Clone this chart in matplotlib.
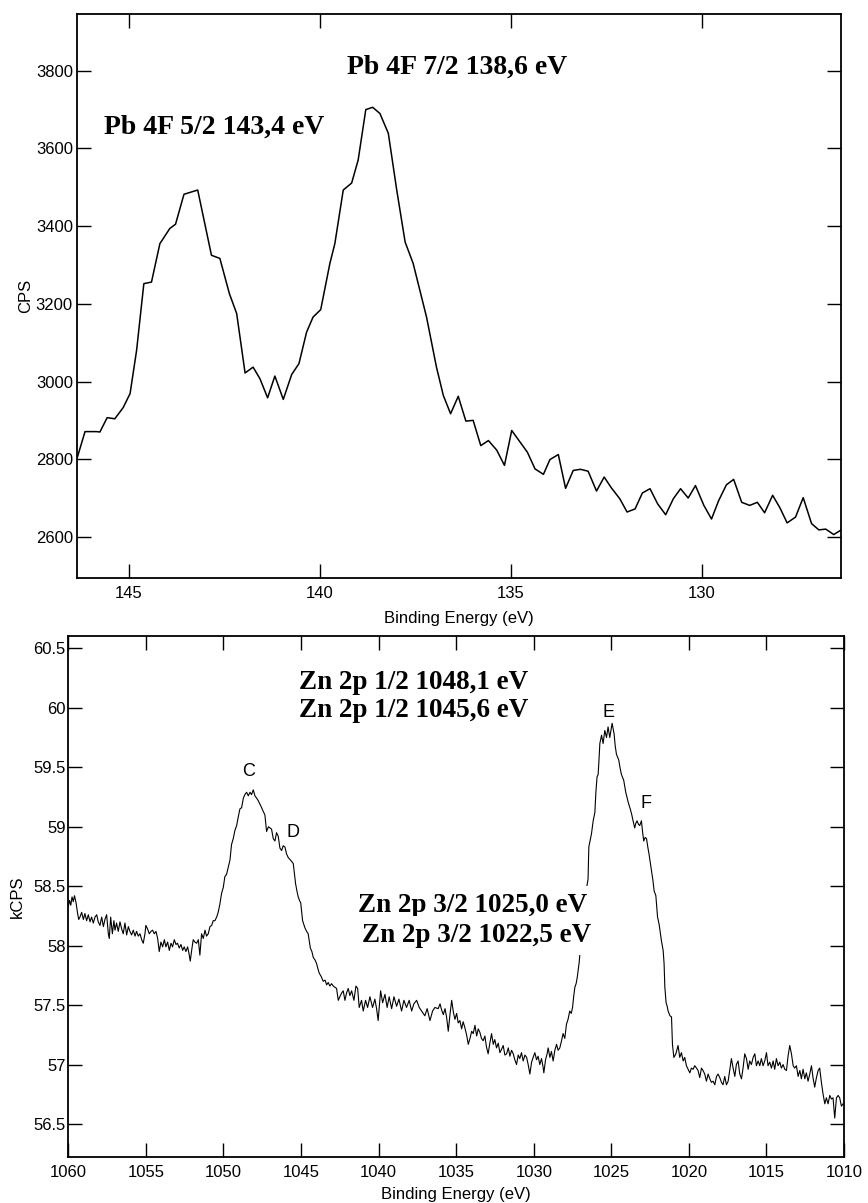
import numpy as np
import matplotlib.pyplot as plt

# XPS spectra: Pb 4f (top) and Zn 2p (bottom)

# Pb 4f region
pb_be = [146.35, 146.15, 145.85, 145.76, 145.57, 145.37, 145.15, 144.97, 144.80, 144.61,
         144.41, 144.19, 143.93, 143.78, 143.56, 143.20, 142.84, 142.62, 142.37, 142.18,
         141.96, 141.75, 141.57, 141.37, 141.18, 140.96, 140.74, 140.55, 140.35, 140.18,
         139.98, 139.74, 139.61, 139.39, 139.17, 139.00, 138.80, 138.62, 138.43, 138.21,
         137.99, 137.77, 137.56, 137.21, 136.95, 136.77, 136.58, 136.38, 136.18, 135.99,
         135.79, 135.59, 135.37, 135.17, 134.98, 134.79, 134.57, 134.37, 134.15, 133.98,
         133.76, 133.57, 133.37, 133.18, 132.98, 132.76, 132.56, 132.37, 132.15, 131.96,
         131.75, 131.56, 131.36, 131.16, 130.95, 130.75, 130.56, 130.36, 130.17, 129.95,
         129.75, 129.56, 129.36, 129.17, 128.96, 128.75, 128.55, 128.36, 128.15, 127.96,
         127.77, 127.55, 127.35, 127.13, 126.94, 126.76, 126.55, 126.35]
pb_cps = [2805, 2871, 2871, 2870, 2907, 2904, 2933, 2969, 3080, 3252,
          3256, 3355, 3394, 3405, 3482, 3493, 3325, 3317, 3226, 3175,
          3022, 3037, 3007, 2958, 3014, 2954, 3018, 3046, 3127, 3166,
          3185, 3304, 3355, 3493, 3511, 3570, 3700, 3706, 3690, 3639,
          3493, 3359, 3304, 3166, 3037, 2964, 2917, 2962, 2898, 2900,
          2835, 2848, 2823, 2784, 2874, 2848, 2818, 2775, 2761, 2799,
          2812, 2725, 2771, 2774, 2769, 2718, 2754, 2726, 2698, 2664,
          2672, 2713, 2724, 2685, 2657, 2698, 2724, 2700, 2732, 2681,
          2646, 2694, 2734, 2748, 2689, 2681, 2689, 2662, 2707, 2675,
          2636, 2651, 2701, 2634, 2618, 2620, 2606, 2618]

# Zn 2p region (binding energy, kCPS)
zn_scan = [
    (1060.00, 58.33), (1059.92, 58.38), (1059.84, 58.34), (1059.76, 58.41), (1059.68, 58.37),
    (1059.60, 58.42), (1059.50, 58.36), (1059.40, 58.27), (1059.33, 58.22), (1059.25, 58.24),
    (1059.14, 58.28), (1059.03, 58.22), (1058.93, 58.27), (1058.82, 58.21), (1058.71, 58.26),
    (1058.60, 58.20), (1058.50, 58.24), (1058.39, 58.19), (1058.28, 58.24), (1058.17, 58.26),
    (1058.07, 58.20), (1057.96, 58.17), (1057.85, 58.24), (1057.74, 58.16), (1057.64, 58.22),
    (1057.53, 58.26), (1057.42, 58.10), (1057.36, 58.06), (1057.27, 58.24), (1057.16, 58.10),
    (1057.06, 58.21), (1056.99, 58.13), (1056.89, 58.19), (1056.78, 58.12), (1056.67, 58.20),
    (1056.56, 58.14), (1056.46, 58.10), (1056.35, 58.19), (1056.24, 58.09), (1056.13, 58.16),
    (1056.03, 58.12), (1055.92, 58.09), (1055.81, 58.13), (1055.70, 58.08), (1055.60, 58.12),
    (1055.49, 58.08), (1055.38, 58.10), (1055.27, 58.05), (1055.17, 58.02), (1055.06, 58.10),
    (1055.00, 58.17), (1054.89, 58.14), (1054.78, 58.10), (1054.67, 58.12), (1054.57, 58.13),
    (1054.46, 58.10), (1054.35, 58.12), (1054.24, 58.06), (1054.14, 57.95), (1054.03, 58.03),
    (1053.92, 57.99), (1053.81, 58.05), (1053.71, 57.99), (1053.60, 58.03), (1053.49, 57.96),
    (1053.38, 58.02), (1053.28, 57.99), (1053.17, 58.05), (1053.06, 58.01), (1052.96, 58.02),
    (1052.85, 57.98), (1052.74, 58.01), (1052.63, 57.96), (1052.53, 57.99), (1052.42, 57.95),
    (1052.31, 57.99), (1052.23, 57.94), (1052.14, 57.87), (1052.05, 57.96), (1051.95, 58.05),
    (1051.84, 58.03), (1051.73, 58.02), (1051.62, 58.05), (1051.52, 57.92), (1051.41, 58.10),
    (1051.30, 58.06), (1051.19, 58.13), (1051.09, 58.08), (1050.98, 58.10), (1050.87, 58.16),
    (1050.76, 58.17), (1050.66, 58.21), (1050.55, 58.21), (1050.44, 58.24), (1050.34, 58.28),
    (1050.23, 58.35), (1050.12, 58.44), (1050.01, 58.49), (1049.91, 58.58), (1049.80, 58.60),
    (1049.69, 58.66), (1049.58, 58.72), (1049.48, 58.85), (1049.37, 58.90), (1049.26, 58.97),
    (1049.15, 59.01), (1049.05, 59.08), (1048.94, 59.15), (1048.83, 59.16), (1048.72, 59.24),
    (1048.62, 59.27), (1048.51, 59.29), (1048.40, 59.26), (1048.29, 59.29), (1048.19, 59.27),
    (1048.08, 59.31), (1047.97, 59.26), (1047.86, 59.24), (1047.76, 59.22), (1047.65, 59.19),
    (1047.54, 59.16), (1047.44, 59.13), (1047.33, 59.10), (1047.22, 58.96), (1047.10, 59.00),
    (1046.90, 58.98), (1046.79, 58.90), (1046.68, 58.88), (1046.58, 58.95), (1046.47, 58.92),
    (1046.36, 58.82), (1046.25, 58.80), (1046.15, 58.84), (1046.04, 58.83), (1045.93, 58.77),
    (1045.82, 58.74), (1045.68, 58.72), (1045.50, 58.69), (1045.42, 58.60), (1045.35, 58.52),
    (1045.25, 58.45), (1045.18, 58.41), (1045.10, 58.38), (1045.02, 58.36), (1044.90, 58.21),
    (1044.80, 58.17), (1044.75, 58.15), (1044.64, 58.12), (1044.54, 58.10), (1044.40, 57.98),
    (1044.30, 57.95), (1044.21, 57.90), (1044.10, 57.88), (1044.00, 57.85), (1043.90, 57.80),
    (1043.83, 57.77), (1043.70, 57.74), (1043.57, 57.70), (1043.45, 57.71), (1043.35, 57.67),
    (1043.25, 57.69), (1043.14, 57.66), (1043.03, 57.68), (1042.92, 57.66), (1042.81, 57.65),
    (1042.71, 57.64), (1042.60, 57.54), (1042.50, 57.57), (1042.39, 57.60), (1042.28, 57.62),
    (1042.17, 57.54), (1042.07, 57.60), (1041.96, 57.64), (1041.85, 57.58), (1041.74, 57.62),
    (1041.59, 57.54), (1041.46, 57.66), (1041.35, 57.64), (1041.25, 57.48), (1041.10, 57.54),
    (1040.99, 57.45), (1040.84, 57.54), (1040.71, 57.48), (1040.56, 57.57), (1040.39, 57.48),
    (1040.24, 57.55), (1040.13, 57.47), (1040.03, 57.37), (1039.87, 57.62), (1039.74, 57.52),
    (1039.59, 57.59), (1039.45, 57.48), (1039.32, 57.57), (1039.16, 57.47), (1039.01, 57.57),
    (1038.84, 57.49), (1038.69, 57.55), (1038.52, 57.45), (1038.37, 57.54), (1038.20, 57.48),
    (1038.03, 57.54), (1037.87, 57.45), (1037.73, 57.51), (1037.55, 57.54), (1037.38, 57.48),
    (1037.23, 57.45), (1037.02, 57.41), (1036.87, 57.47), (1036.69, 57.37), (1036.52, 57.45),
    (1036.37, 57.48), (1036.16, 57.47), (1036.04, 57.51), (1035.94, 57.46), (1035.83, 57.42),
    (1035.72, 57.47), (1035.62, 57.40), (1035.51, 57.28), (1035.40, 57.42), (1035.29, 57.54),
    (1035.18, 57.44), (1035.08, 57.38), (1034.97, 57.43), (1034.87, 57.35), (1034.76, 57.37),
    (1034.65, 57.30), (1034.55, 57.36), (1034.44, 57.31), (1034.33, 57.25), (1034.22, 57.17),
    (1034.11, 57.22), (1034.00, 57.28), (1033.90, 57.26), (1033.79, 57.33), (1033.68, 57.24),
    (1033.58, 57.30), (1033.47, 57.27), (1033.37, 57.22), (1033.26, 57.20), (1033.15, 57.24),
    (1033.05, 57.15), (1032.94, 57.09), (1032.83, 57.18), (1032.72, 57.26), (1032.61, 57.17),
    (1032.51, 57.21), (1032.40, 57.14), (1032.29, 57.18), (1032.18, 57.10), (1032.07, 57.13),
    (1031.97, 57.16), (1031.86, 57.08), (1031.75, 57.09), (1031.64, 57.14), (1031.54, 57.07),
    (1031.43, 57.12), (1031.32, 57.09), (1031.22, 57.04), (1031.11, 57.00), (1031.00, 57.08),
    (1030.90, 57.05), (1030.79, 57.10), (1030.68, 57.03), (1030.57, 57.08), (1030.46, 57.06),
    (1030.36, 57.00), (1030.25, 56.92), (1030.14, 57.02), (1030.04, 57.06), (1029.93, 57.10),
    (1029.82, 57.04), (1029.72, 57.07), (1029.61, 57.00), (1029.50, 57.05), (1029.40, 56.98),
    (1029.35, 56.93), (1029.24, 57.04), (1029.14, 57.09), (1029.07, 57.14), (1028.96, 57.06),
    (1028.86, 57.11), (1028.75, 57.03), (1028.64, 57.12), (1028.53, 57.17), (1028.43, 57.12),
    (1028.32, 57.14), (1028.21, 57.20), (1028.11, 57.26), (1028.00, 57.22), (1027.89, 57.34),
    (1027.79, 57.38), (1027.68, 57.45), (1027.58, 57.43), (1027.50, 57.48), (1027.42, 57.58),
    (1027.35, 57.65), (1027.27, 57.68), (1027.20, 57.73), (1027.13, 57.80), (1027.07, 57.86),
    (1026.90, 58.15), (1026.70, 58.40), (1026.50, 58.56), (1026.45, 58.83), (1026.37, 58.88),
    (1026.28, 58.94), (1026.17, 59.05), (1026.06, 59.12), (1026.00, 59.28), (1025.92, 59.42),
    (1025.85, 59.44), (1025.80, 59.55), (1025.74, 59.70), (1025.63, 59.77), (1025.53, 59.70),
    (1025.42, 59.81), (1025.31, 59.75), (1025.21, 59.84), (1025.10, 59.75), (1024.95, 59.87),
    (1024.82, 59.78), (1024.75, 59.68), (1024.67, 59.61), (1024.52, 59.56), (1024.43, 59.49),
    (1024.35, 59.44), (1024.20, 59.39), (1024.07, 59.29), (1023.92, 59.21), (1023.76, 59.14),
    (1023.68, 59.10), (1023.60, 59.05), (1023.49, 58.99), (1023.42, 59.03), (1023.34, 59.05),
    (1023.25, 59.02), (1023.17, 59.01), (1023.06, 59.05), (1022.98, 58.95), (1022.91, 58.88),
    (1022.82, 58.91), (1022.73, 58.90), (1022.65, 58.83), (1022.57, 58.77), (1022.49, 58.70),
    (1022.41, 58.63), (1022.32, 58.55), (1022.24, 58.46), (1022.13, 58.42), (1022.02, 58.24),
    (1021.92, 58.18), (1021.77, 58.04), (1021.66, 57.96), (1021.60, 57.85), (1021.55, 57.65),
    (1021.47, 57.52), (1021.40, 57.49), (1021.34, 57.45), (1021.22, 57.41), (1021.12, 57.40),
    (1021.06, 57.17), (1020.97, 57.06), (1020.84, 57.09), (1020.70, 57.16), (1020.59, 57.06),
    (1020.48, 57.10), (1020.37, 57.03), (1020.27, 57.06), (1020.16, 56.99), (1020.05, 56.96),
    (1019.94, 56.93), (1019.84, 56.97), (1019.73, 56.96), (1019.62, 56.99), (1019.51, 56.97),
    (1019.41, 56.95), (1019.30, 56.89), (1019.19, 56.97), (1019.09, 56.95), (1018.98, 56.92),
    (1018.87, 56.86), (1018.76, 56.92), (1018.65, 56.88), (1018.55, 56.85), (1018.44, 56.86),
    (1018.33, 56.83), (1018.22, 56.90), (1018.12, 56.92), (1018.01, 56.89), (1017.90, 56.85),
    (1017.80, 56.83), (1017.69, 56.90), (1017.58, 56.83), (1017.47, 56.86), (1017.37, 56.95),
    (1017.26, 57.05), (1017.15, 56.97), (1017.04, 56.90), (1016.94, 57.00), (1016.83, 57.03),
    (1016.72, 56.92), (1016.61, 56.88), (1016.51, 56.97), (1016.40, 57.09), (1016.29, 57.05),
    (1016.18, 56.96), (1016.08, 57.03), (1015.97, 57.00), (1015.86, 57.06), (1015.75, 57.09),
    (1015.65, 56.99), (1015.54, 57.03), (1015.43, 56.99), (1015.33, 57.05), (1015.22, 56.99),
    (1015.11, 57.03), (1015.00, 57.10), (1014.90, 56.99), (1014.79, 57.02), (1014.68, 56.97),
    (1014.57, 57.03), (1014.47, 56.96), (1014.36, 57.05), (1014.25, 56.99), (1014.14, 57.02),
    (1014.04, 56.97), (1013.93, 57.00), (1013.82, 56.96), (1013.71, 56.95), (1013.61, 57.07),
    (1013.50, 57.16), (1013.39, 57.09), (1013.28, 56.99), (1013.18, 56.97), (1013.07, 56.99),
    (1012.96, 56.90), (1012.85, 56.95), (1012.75, 56.88), (1012.64, 56.96), (1012.53, 56.88),
    (1012.43, 56.93), (1012.32, 56.86), (1012.21, 56.92), (1012.10, 56.99), (1012.00, 56.89),
    (1011.89, 56.81), (1011.78, 56.89), (1011.67, 56.95), (1011.57, 56.97), (1011.46, 56.85),
    (1011.35, 56.75), (1011.24, 56.67), (1011.14, 56.72), (1011.03, 56.67), (1010.92, 56.74),
    (1010.81, 56.71), (1010.71, 56.72), (1010.60, 56.55), (1010.49, 56.72), (1010.38, 56.74),
    (1010.28, 56.72), (1010.17, 56.65), (1010.06, 56.67),
]
zn_be = [p[0] for p in zn_scan]
zn_kcps = [p[1] for p in zn_scan]

pb_labels = ['Pb 4F 7/2 138,6 eV', 'Pb 4F 5/2 143,4 eV']
zn_labels_12 = ['Zn 2p 1/2 1048,1 eV', 'Zn 2p 1/2 1045,6 eV']
zn_labels_32 = ['Zn 2p 3/2 1025,0 eV', 'Zn 2p 3/2 1022,5 eV']
peak_letters = ['C', 'D', 'E', 'F']

sans = 'Liberation Sans'
serif = 'Liberation Serif'
plt.rcParams['font.family'] = sans

fig = plt.figure(figsize=(8.68, 12.03), dpi=100)

def style_axes(ax, ypad):
    ax.tick_params(direction='in', length=10, width=1.0, top=True, right=True,
                   labelsize=12)
    ax.tick_params(axis='x', pad=6)
    ax.tick_params(axis='y', pad=ypad)
    for s in ax.spines.values():
        s.set_linewidth(1.3)

# ---- top: Pb 4f ----
ax1 = fig.add_axes([0.0887, 0.5195, 0.8802, 0.4688])
ax1.plot(pb_be, pb_cps, color='black', lw=1.1)
ax1.set_xlim(146.36, 126.36)
ax1.set_ylim(2494, 3946)
ax1.set_xticks([145, 140, 135, 130])
ax1.set_yticks([2600, 2800, 3000, 3200, 3400, 3600, 3800])
style_axes(ax1, 3)
ax1.set_xlabel('Binding Energy (eV)', fontsize=12, labelpad=7)
ax1.set_ylabel('CPS', fontsize=12)
ax1.yaxis.set_label_coords(-0.0576, 0.5)
ax1.text(136.4, 3810, pb_labels[0], family=serif, weight='bold', fontsize=20,
         ha='center', va='center')
ax1.text(142.77, 3655, pb_labels[1], family=serif, weight='bold', fontsize=20,
         ha='center', va='center')

# ---- bottom: Zn 2p ----
ax2 = fig.add_axes([0.0787, 0.0385, 0.8937, 0.4328])
ax2.plot(zn_be, zn_kcps, color='black', lw=0.8, zorder=2)
ax2.set_xlim(1060, 1010)
ax2.set_ylim(56.225, 60.604)
ax2.set_xticks(np.arange(1060, 1009, -5))
ax2.set_yticks([56.5, 57, 57.5, 58, 58.5, 59, 59.5, 60, 60.5])
ax2.set_yticklabels(['56.5', '57', '57.5', '58', '58.5', '59', '59.5', '60', '60.5'])
style_axes(ax2, 2)
ax2.set_xlabel('Binding Energy (eV)', fontsize=12, labelpad=5)
ax2.set_ylabel('kCPS', fontsize=12)
ax2.yaxis.set_label_coords(-0.0558, 0.5)

ax2.text(1037.73, 60.213, zn_labels_12[0], family=serif, weight='bold', fontsize=19.5,
         ha='center', va='center')
ax2.text(1037.73, 59.977, zn_labels_12[1], family=serif, weight='bold', fontsize=19.5,
         ha='center', va='center')
for lab, x, y in zip(zn_labels_32, [1033.96, 1033.70], [58.336, 58.083]):
    ax2.text(x, y, lab, family=serif, weight='bold', fontsize=19.5,
             ha='center', va='center', zorder=3,
             bbox=dict(boxstyle='square,pad=0.25', fc='white', ec='none'))

for lab, (x, y) in zip(peak_letters, [(1048.40, 59.466), (1045.54, 58.953),
                                      (1025.21, 59.963), (1022.78, 59.192)]):
    ax2.text(x, y, lab, fontsize=13, ha='center', va='center')

fig.savefig('out.png', dpi=100)
